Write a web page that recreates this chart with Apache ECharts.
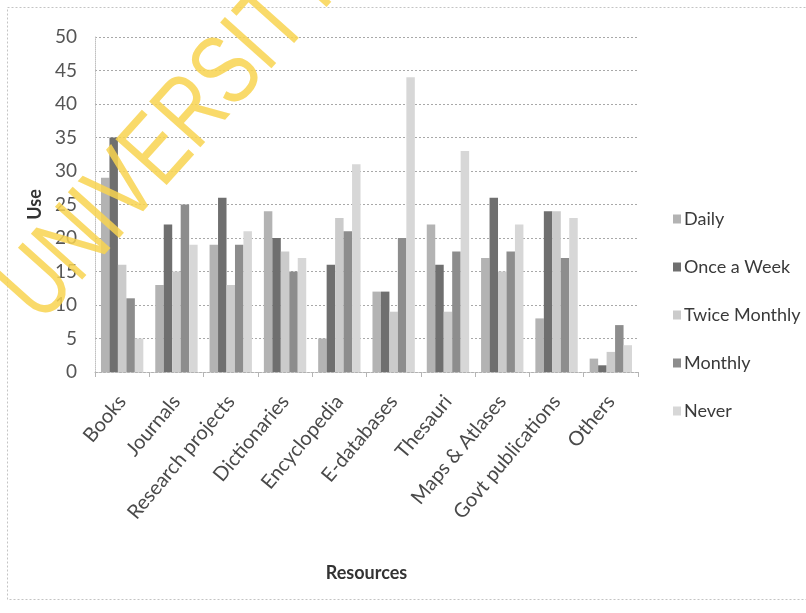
<!DOCTYPE html>
<html>
<head>
<meta charset="utf-8">
<title>Use of Resources</title>
<script src="https://cdn.jsdelivr.net/npm/echarts@6/dist/echarts.min.js"></script>
<style>
  html, body { margin: 0; padding: 0; background: #ffffff; }
  #chart { width: 806px; height: 613px; }
</style>
</head>
<body>
<div id="chart"></div>
<script>
// Resource categories on the x axis
const categories = ['Books', 'Journals', 'Research projects', 'Dictionaries', 'Encyclopedia',
  'E-databases', 'Thesauri', 'Maps & Atlases', 'Govt publications', 'Others'];

// Frequency of use per resource
const daily         = [29, 13, 19, 24, 5, 12, 22, 17, 8, 2];
const onceAWeek     = [35, 22, 26, 20, 16, 12, 16, 26, 24, 1];
const twiceMonthly  = [16, 15, 13, 18, 23, 9, 9, 15, 24, 3];
const monthly       = [11, 25, 19, 15, 21, 20, 18, 18, 17, 7];
const never         = [5, 19, 21, 17, 31, 44, 33, 22, 23, 4];

const seriesNames = ['Daily', 'Once a Week', 'Twice Monthly', 'Monthly', 'Never'];
const seriesData = [daily, onceAWeek, twiceMonthly, monthly, never];
const seriesColors = ['#b3b3b3', '#6f6f6f', '#cbcbcb', '#8d8d8d', '#d7d7d7'];

const yTicks = [0, 5, 10, 15, 20, 25, 30, 35, 40, 45, 50];

const font = 'Lato, "Open Sans", sans-serif';

const chart = echarts.init(document.getElementById('chart'), null, { renderer: 'canvas' });

chart.setOption({
  backgroundColor: '#ffffff',
  animation: false,
  textStyle: { fontFamily: font },
  grid: { left: 95, right: 168, top: 37, bottom: 241, containLabel: false },
  legend: {
    orient: 'vertical',
    left: 668,
    top: 205,
    itemWidth: 8,
    itemHeight: 9,
    itemGap: 30,
    icon: 'rect',
    data: seriesNames,
    textStyle: { fontSize: 18, color: '#3a3a3a', fontFamily: font, padding: [0, 0, 0, -2] }
  },
  xAxis: {
    type: 'category',
    data: categories,
    name: 'Resources',
    nameLocation: 'middle',
    nameGap: 192,
    nameTextStyle: { fontSize: 18, fontWeight: 'bold', color: '#333', fontFamily: font },
    axisLine: { show: true, lineStyle: { color: '#b5b5b5', type: 'dotted' } },
    axisTick: { show: true, alignWithLabel: false, length: 5, lineStyle: { color: '#b5b5b5' } },
    axisLabel: { rotate: 50, fontSize: 20, color: '#4a4a4a', margin: 26, interval: 0, fontFamily: font },
    splitLine: { show: false }
  },
  yAxis: {
    type: 'value',
    min: yTicks[0],
    max: yTicks[yTicks.length - 1],
    interval: 5,
    name: 'Use',
    nameLocation: 'middle',
    nameGap: 40,
    nameRotate: 90,
    nameTextStyle: { fontSize: 18, fontWeight: 'bold', color: '#333', fontFamily: font },
    axisLine: { show: true, lineStyle: { color: '#c0c0c0', type: 'dotted' } },
    axisTick: { show: false },
    axisLabel: { fontSize: 19, color: '#555', margin: 18, fontFamily: font },
    splitLine: { show: true, lineStyle: { color: '#a8a8a8', type: [2, 2], width: 1 } }
  },
  series: seriesNames.map((name, i) => ({
    name: name,
    type: 'bar',
    data: seriesData[i],
    barGap: '0%',
    barCategoryGap: '22%',
    itemStyle: { color: seriesColors[i] },
    emphasis: { disabled: true }
  })),
  graphic: [
    {
      type: 'rect',
      shape: { x: 7.5, y: 7.5, width: 830, height: 592 },
      style: { fill: 'none', stroke: '#c4c4c4', lineWidth: 1, lineDash: [2, 2] },
      silent: true,
      z: 0
    },
    {
      type: 'text',
      x: 58,
      y: 340,
      rotation: 0.84,
      scaleX: 0.76,
      style: {
        text: 'UNIVERSITY',
        fontSize: 100,
        fontFamily: '"Liberation Sans", sans-serif',
        fontWeight: 'normal',
        fill: 'rgba(248, 212, 80, 0.85)',
        textAlign: 'left',
        textVerticalAlign: 'bottom'
      },
      silent: true,
      z: 100
    }
  ]
});
</script>
</body>
</html>
